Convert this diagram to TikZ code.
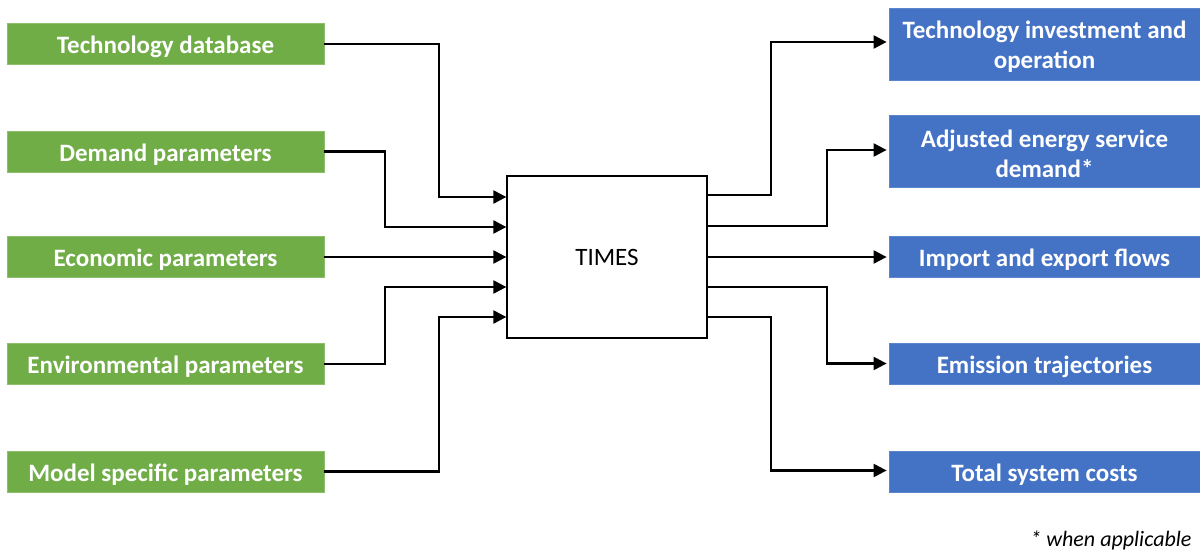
\documentclass[tikz,border=0pt]{standalone}
\usepackage{fontspec}
\setmainfont{Carlito}
\usetikzlibrary{arrows.meta,calc}
\definecolor{ingreen}{HTML}{70AD47}
\definecolor{ingreenedge}{HTML}{8CBF6C}
\definecolor{outblue}{HTML}{4472C4}
\definecolor{outblueedge}{HTML}{5B85CF}
\tikzset{
  boxfont/.style={text=white, font=\fontsize{25}{30}\selectfont\bfseries},
  inbox/.style={fill=ingreen, draw=ingreenedge, line width=0.8pt,
    minimum width=317pt, minimum height=41pt, inner sep=0pt, text height=23.5pt,
    boxfont},
  outbox/.style={fill=outblue, draw=outblueedge, line width=0.8pt,
    minimum width=311pt, inner sep=0pt, boxfont},
  oneline/.style={minimum height=41pt, text height=23.5pt},
  twoline/.style={minimum height=72pt,
    label={[boxfont, align=center, inner sep=0pt, yshift=-3pt]center:{#1}}},
  core/.style={draw, line width=1.3pt, fill=white,
    minimum width=200pt, minimum height=162pt,
    font=\fontsize{25}{30}\selectfont},
  conn/.style={line width=2.2pt, -{Triangle[length=13pt,width=13pt]}},
}
\begin{document}
\begin{tikzpicture}[x=1pt,y=-1pt]
\useasboundingbox (0,0) rectangle (1200,553);

% model inputs
\node[inbox] (tech) at (165.5,44) {Technology database};
\node[inbox] (dem)  at (165.5,151.5) {Demand parameters};
\node[inbox] (eco)  at (165.5,257) {Economic parameters};
\node[inbox] (env)  at (165.5,364) {Environmental parameters};
\node[inbox] (mod)  at (165.5,471.5) {Model specific parameters};

% the model itself
\node[core] (times) at (607,257) {TIMES};

% model outputs
\node[outbox, twoline={Technology investment and\\operation}] (inv) at (1044.5,44) {};
\node[outbox, twoline={Adjusted energy service\\demand*}] (adj) at (1044.5,151) {};
\node[outbox, oneline] (imp) at (1044.5,257) {Import and export flows};
\node[outbox, oneline] (emi) at (1044.5,363.5) {Emission trajectories};
\node[outbox, oneline] (tot) at (1044.5,471.5) {Total system costs};

\node[anchor=east, font=\fontsize{22}{26}\selectfont\itshape] (note) at (1195,540) {* when applicable};

% ports on the model box
\coordinate (i1) at ($(times.west)+(0,-60)$);
\coordinate (i2) at ($(times.west)+(0,-30)$);
\coordinate (i3) at ($(times.west)+(0,0)$);
\coordinate (i4) at ($(times.west)+(0,30)$);
\coordinate (i5) at ($(times.west)+(0,60)$);
\coordinate (o1) at ($(times.east)+(-1,-62)$);
\coordinate (o2) at ($(times.east)+(-1,-31)$);
\coordinate (o3) at ($(times.east)+(-1,0)$);
\coordinate (o4) at ($(times.east)+(-1,30)$);
\coordinate (o5) at ($(times.east)+(-1,60)$);

% inputs into the model
\draw[conn] (tech.east) -| ($(i1)+(-67,0)$) -- (i1);
\draw[conn] (dem.east)  -| ($(i2)+(-121,0)$) -- (i2);
\draw[conn] (eco.east)  -- (i3);
\draw[conn] (env.east)  -| ($(i4)+(-121,0)$) -- (i4);
\draw[conn] (mod.east)  -| ($(i5)+(-67,0)$) -- (i5);

% outputs from the model
\draw[conn] (o1) -| ($(inv.west)+(-118,-2)$) -- ($(inv.west)+(-2,-2)$);
\draw[conn] (o2) -| ($(adj.west)+(-62,-1)$) -- ($(adj.west)+(-2,-1)$);
\draw[conn] (o3) -- ($(imp.west)+(-2,0)$);
\draw[conn] (o4) -| ($(emi.west)+(-62,0)$) -- ($(emi.west)+(-2,0)$);
\draw[conn] (o5) -| ($(tot.west)+(-118,-1)$) -- ($(tot.west)+(-2,-1)$);
\end{tikzpicture}
\end{document}
